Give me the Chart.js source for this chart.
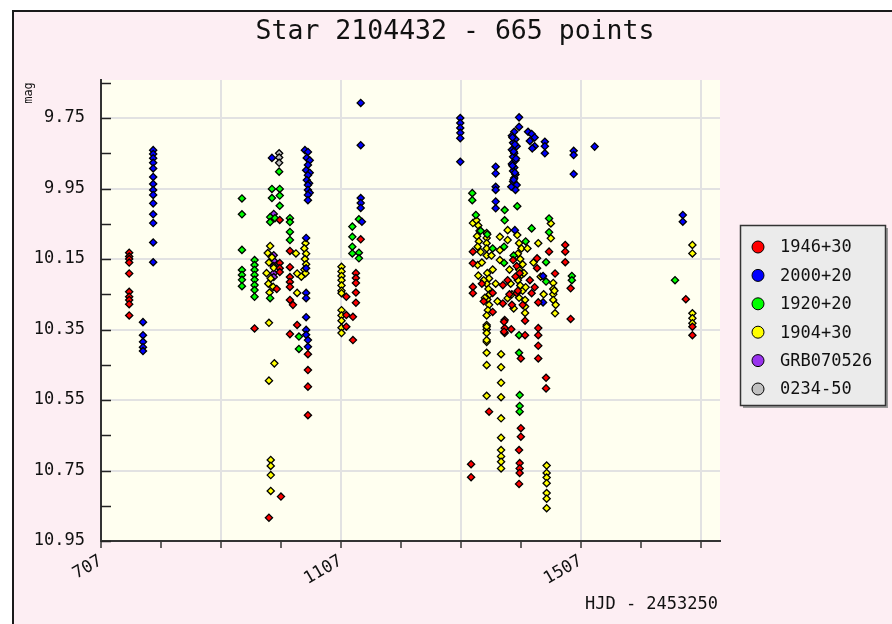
<!DOCTYPE html>
<html><head><meta charset="utf-8">
<script src="https://cdn.jsdelivr.net/npm/chart.js@4/dist/chart.umd.min.js"></script>
<style>html,body{margin:0;padding:0;background:#fff;overflow:hidden}#c{display:block}</style>
</head><body>
<canvas id="c" width="892" height="624"></canvas>
<script>
// ---- data (HJD - 2453250, magnitude) ----
const seriesNames = ['1946+30','2000+20','1920+20','1904+30','GRB070526','0234-50'];
const seriesColors = ['#ff0000','#0000ff','#00ff00','#ffff00','#9933ee','#c0c0c0'];

const hjd1946 = [754,754,754,754,754,754,754,754,754,754,963,1005,1005,1005,1005,1000,1007,987,1022,1022,1022,1022,1022,1022,1022,1027,1034,1052,1052,1052,1052,1116,1116,1116,1140,1132,1132,1132,1132,1132,1127,1127,1354,1324,1324,1380,1380,1380,1391,1414,1414,1407,1407,1407,1404,1404,1405,1405,1405,1436,1436,1436,1436,1436,1449,1449,1490,1490,1327,1327,1327,1327,1360,1377,1377,1394,1400,1400,1405,1434,1434,1422,1425,1454,1464,1481,1481,1481,1379,1379,1682,1693,1693,1385,1388,1392,1398,1402,1342,1345,1360,1410,1430];
const mag1946 = [10.132,10.143,10.150,10.160,10.191,10.243,10.257,10.266,10.278,10.310,10.347,10.161,10.176,10.187,10.039,10.235,10.824,10.884,10.127,10.173,10.201,10.215,10.229,10.266,10.363,10.280,10.337,10.420,10.465,10.512,10.593,10.257,10.309,10.342,10.094,10.190,10.204,10.218,10.245,10.274,10.314,10.380,10.583,10.732,10.769,10.323,10.346,10.360,10.349,10.366,10.325,10.432,10.630,10.654,10.692,10.788,10.729,10.744,10.757,10.346,10.366,10.396,10.432,10.273,10.487,10.517,10.320,10.233,10.129,10.162,10.229,10.247,10.246,10.224,10.276,10.153,10.170,10.247,10.190,10.148,10.176,10.210,10.247,10.129,10.191,10.110,10.129,10.159,10.328,10.356,10.264,10.342,10.366,10.210,10.250,10.280,10.200,10.240,10.220,10.270,10.300,10.280,10.230];

const hjd2000 = [794,794,794,794,794,794,794,794,794,794,794,794,794,794,777,777,777,777,777,992,1047,1052,1050,1055,1052,1049,1055,1052,1050,1054,1052,1052,1055,1052,1052,1049,1049,1049,1049,1049,1049,1049,1052,1052,1140,1140,1140,1140,1140,1142,1306,1306,1306,1306,1306,1306,1404,1404,1396,1392,1398,1394,1400,1392,1396,1394,1398,1392,1396,1394,1398,1396,1394,1400,1398,1419,1425,1430,1422,1430,1426,1447,1447,1447,1495,1495,1495,1530,1365,1365,1365,1365,1365,1365,1397,1444,1444,1677,1677,1393,1397,1395,1399,1393,1397,1395,1391];
const mag2000 = [9.841,9.852,9.864,9.877,9.893,9.917,9.937,9.954,9.968,9.992,10.023,10.048,10.103,10.159,10.329,10.366,10.385,10.400,10.411,9.863,9.841,9.846,9.863,9.870,9.883,9.898,9.905,9.912,9.926,9.935,9.940,9.954,9.962,9.968,9.983,10.090,10.176,10.246,10.261,10.315,10.351,10.365,10.380,10.399,9.707,9.827,9.977,9.991,10.005,10.044,9.750,9.764,9.778,9.792,9.807,9.874,9.748,9.775,9.789,9.800,9.810,9.820,9.830,9.840,9.850,9.860,9.870,9.880,9.890,9.900,9.910,9.920,9.930,9.940,9.954,9.789,9.795,9.805,9.815,9.830,9.836,9.817,9.830,9.850,9.843,9.855,9.909,9.831,9.888,9.907,9.945,9.954,9.987,10.006,10.068,10.198,10.273,10.025,10.044,9.805,9.825,9.845,9.865,9.885,9.905,9.925,9.945];

const hjd1920 = [942,942,942,942,942,942,942,963,963,963,963,963,963,963,963,989,989,989,997,992,992,1005,1005,1005,1004,1022,1022,1022,1022,1037,1037,1137,1137,1137,1126,1126,1126,1126,1326,1326,1401,1380,1380,1332,1351,1379,1379,1425,1454,1454,1449,1449,1492,1492,1404,1404,1405,1405,1405,1664,1340,1360,1395,1415];
const mag1920 = [9.978,10.023,10.124,10.181,10.195,10.209,10.227,10.153,10.167,10.181,10.195,10.209,10.224,10.238,10.257,10.261,10.031,10.045,10.034,9.951,9.977,9.951,9.970,9.999,9.902,10.034,10.045,10.073,10.096,10.370,10.405,10.037,10.132,10.148,10.058,10.087,10.115,10.134,9.963,9.983,10.000,10.011,10.040,10.025,10.080,10.115,10.161,10.063,10.035,10.074,10.159,10.214,10.198,10.210,10.366,10.416,10.536,10.567,10.583,10.210,10.070,10.120,10.140,10.100];

const hjd1904 = [989,985,992,987,995,983,990,986,994,988,987,987,996,990,990,990,990,1032,1034,1034,1041,1048,1046,1049,1047,1049,1046,1048,1108,1108,1108,1108,1108,1108,1108,1108,1108,1108,1108,1108,1350,1350,1350,1350,1350,1350,1350,1350,1350,1374,1374,1374,1374,1374,1374,1374,1374,1374,1374,1450,1450,1450,1450,1450,1450,1450,1464,1327,1333,1336,1338,1334,1337,1335,1335,1336,1350,1350,1350,1350,1350,1351,1354,1350,1353,1355,1351,1354,1352,1350,1372,1372,1372,1385,1385,1385,1401,1404,1408,1402,1406,1410,1404,1408,1402,1406,1410,1404,1436,1414,1414,1414,1457,1457,1461,1461,1461,1461,1693,1693,1693,1693,1693,1340,1342,1345,1347,1358,1360,1365,1368,1388,1390,1392,1395,1412,1415,1418,1428,1440,1445,1465,1463];
const mag1904 = [10.113,10.133,10.145,10.160,10.175,10.190,10.205,10.220,10.229,10.245,10.331,10.495,10.446,10.720,10.737,10.763,10.808,10.134,10.246,10.191,10.200,10.105,10.120,10.135,10.150,10.165,10.180,10.190,10.172,10.185,10.198,10.210,10.225,10.240,10.247,10.295,10.310,10.325,10.345,10.360,10.337,10.350,10.385,10.416,10.451,10.538,10.342,10.360,10.380,10.420,10.457,10.501,10.542,10.602,10.657,10.692,10.710,10.725,10.744,10.736,10.757,10.770,10.786,10.814,10.830,10.857,10.304,10.048,10.040,10.055,10.070,10.085,10.100,10.115,10.167,10.197,10.076,10.090,10.105,10.120,10.140,10.190,10.205,10.220,10.235,10.250,10.265,10.280,10.295,10.310,10.087,10.125,10.153,10.068,10.096,10.261,10.082,10.105,10.120,10.135,10.150,10.165,10.180,10.195,10.210,10.225,10.240,10.260,10.105,10.266,10.285,10.303,10.049,10.091,10.218,10.235,10.250,10.266,10.110,10.134,10.304,10.318,10.332,10.130,10.160,10.210,10.260,10.140,10.180,10.220,10.270,10.180,10.220,10.250,10.290,10.190,10.230,10.120,10.160,10.200,10.250,10.280,10.240];

const hjdGRB = [995,995,995,995,995,995];
const magGRB = [10.022,10.139,10.155,10.170,10.190,10.201];

const hjd0234 = [1004,1004,1004];
const mag0234 = [9.850,9.862,9.877];

const xTickValues = [707,807,907,1007,1107,1207,1307,1407,1507,1607,1707];
const xLabelValues = [707,1107,1507];
const xGridValues = [907,1107,1307,1507,1707];
const yTickValues = [9.65,9.75,9.85,9.95,10.05,10.15,10.25,10.35,10.45,10.55,10.65,10.75,10.85,10.95];
const yTickLabels = ['','9.75','','9.95','','10.15','','10.35','','10.55','','10.75','','10.95'];

const titleText = 'Star 2104432 - 665 points';
const xTitle = 'HJD - 2453250';
const yTitle = 'mag';

// ---- build ----
const FONT = "'DejaVu Sans Mono', 'Liberation Mono', monospace";
const allX = [hjd1946,hjd2000,hjd1920,hjd1904,hjdGRB,hjd0234];
const allY = [mag1946,mag2000,mag1920,mag1904,magGRB,mag0234];
const datasets = seriesNames.map((n,i)=>({
  label:n,
  data: allX[i].map((x,j)=>({x:x,y:allY[i][j]})),
  pointStyle:'rectRot', pointRadius:3.6, pointHoverRadius:3.6,
  pointBackgroundColor:seriesColors[i], pointBorderColor:'#000', pointBorderWidth:1.3,
  showLine:false
}));

const framePlugin = {
  id:'frame',
  beforeDraw(chart){
    const ctx=chart.ctx, a=chart.chartArea, W=chart.width, H=chart.height;
    ctx.save();
    ctx.fillStyle='#ffffff'; ctx.fillRect(0,0,W,H);
    ctx.fillStyle='#fdeef3'; ctx.fillRect(12,10,W-12,H-10);
    ctx.strokeStyle='#1a1a1a'; ctx.lineWidth=2;
    ctx.beginPath(); ctx.moveTo(13,H); ctx.lineTo(13,11); ctx.lineTo(W,11); ctx.stroke();
    ctx.fillStyle='#fffff0'; ctx.fillRect(a.left,a.top,a.right-a.left,a.bottom-a.top);
    ctx.restore();
  },
  afterDraw(chart){
    const ctx=chart.ctx, a=chart.chartArea, ys=chart.scales.y;
    ctx.save();
    ctx.strokeStyle='#222'; ctx.lineWidth=1.5;
    yTickValues.forEach(v=>{
      const y=Math.round(ys.getPixelForValue(v))+0.5;
      ctx.beginPath(); ctx.moveTo(a.left,y); ctx.lineTo(a.left+10,y); ctx.stroke();
    });
    ctx.fillStyle='#111'; ctx.textBaseline='middle'; ctx.textAlign='center';
    ctx.font='26.5px '+FONT;
    ctx.fillText(titleText,455,32);
    ctx.font='17px '+FONT; ctx.textAlign='right';
    ctx.fillText(xTitle,718,605);
    ctx.save(); ctx.translate(29,93); ctx.rotate(-Math.PI/2);
    ctx.font='12px '+FONT; ctx.textAlign='center'; ctx.fillText(yTitle,0,0);
    ctx.restore();
    const bx=740,by=225,bw=145,bh=180;
    ctx.fillStyle='#9a9a9a'; ctx.fillRect(bx+3,by+3,bw,bh);
    ctx.fillStyle='#ebebeb'; ctx.fillRect(bx,by,bw,bh);
    ctx.strokeStyle='#333'; ctx.lineWidth=1.5; ctx.strokeRect(bx+0.5,by+0.5,bw,bh);
    ctx.font='17px '+FONT; ctx.textAlign='left'; ctx.textBaseline='middle';
    seriesNames.forEach((n,i)=>{
      const y=247+28.4*i;
      ctx.beginPath(); ctx.arc(758,y,6,0,Math.PI*2);
      ctx.fillStyle=seriesColors[i]; ctx.fill();
      ctx.strokeStyle='#000'; ctx.lineWidth=1; ctx.stroke();
      ctx.fillStyle='#111'; ctx.fillText(n,780,y+1);
    });
    ctx.restore();
  }
};

new Chart(document.getElementById('c'),{
  type:'scatter',
  data:{datasets},
  options:{
    responsive:false, animation:false, events:[],
    layout:{padding:{left:12,top:80,right:172,bottom:0}},
    plugins:{legend:{display:false},title:{display:false},tooltip:{enabled:false}},
    scales:{
      x:{
        type:'linear', min:707, max:1739,
        afterBuildTicks:s=>{s.ticks=xTickValues.map(v=>({value:v}));},
        afterFit:s=>{s.height=83;},
        ticks:{autoSkip:false,minRotation:30,maxRotation:30,padding:3,color:'#111',
          font:{family:FONT,size:17},
          callback:v=>xLabelValues.includes(v)?String(v):''},
        grid:{drawTicks:true,tickLength:7,tickColor:'#333',tickWidth:1.5,lineWidth:2,
          color:c=>(c.tick&&xGridValues.includes(c.tick.value))?'#e2e2e2':'rgba(0,0,0,0)'},
        border:{display:true,color:'#333',width:2}
      },
      y:{
        type:'linear', reverse:true, min:9.642, max:10.95,
        afterBuildTicks:s=>{s.ticks=yTickValues.map(v=>({value:v}));},
        afterFit:s=>{s.width=89;},
        ticks:{autoSkip:false,padding:16,color:'#111',font:{family:FONT,size:17},
          callback:(v,i)=>yTickLabels[i]},
        grid:{drawTicks:false,lineWidth:2,
          color:c=>(c.index!==undefined&&yTickLabels[c.index]&&c.index<yTickLabels.length-1)?'#e2e2e2':'rgba(0,0,0,0)'},
        border:{display:true,color:'#333',width:2}
      }
    }
  },
  plugins:[framePlugin]
});
</script>
</body></html>
